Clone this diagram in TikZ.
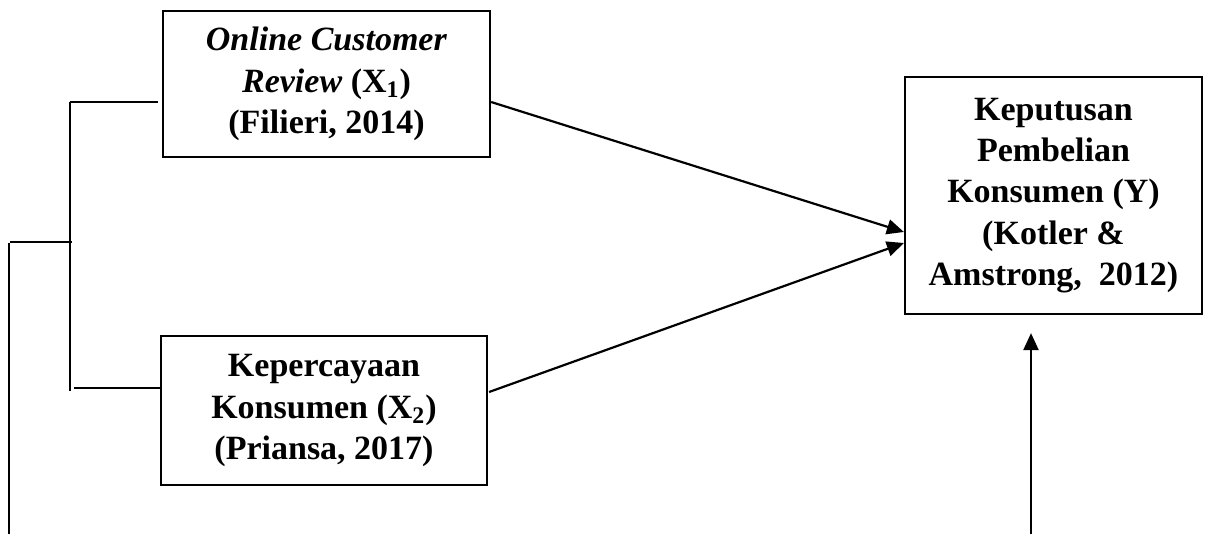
\documentclass[tikz,border=0pt]{standalone}
\usepackage{fontspec}
\setmainfont{Liberation Serif}
\usetikzlibrary{arrows.meta,calc}
\colorlet{box edge}{black}
\tikzset{varbox/.style={draw=box edge, line width=1.1pt, inner sep=0pt, align=center,
        font=\bfseries\fontsize{17}{20.7}\selectfont},
    link/.style={draw=box edge, line width=1.1pt},
    effect/.style={link, -{Triangle[length=8.5pt,width=7.5pt]}}}

\begin{document}
\begin{tikzpicture}[x=0.5pt,y=-0.5pt]
    \useasboundingbox (0,0) rectangle (1206,534);
    % variables
    \node[varbox, minimum width=163.5pt, minimum height=73pt] (x1) at (326.5,84)
        {\textit{Online Customer}\\\textit{Review} (X\textsubscript{1})\\(Filieri, 2014)};
    \node[varbox, minimum width=163pt, minimum height=74.5pt] (x2) at (324,410.5)
        {Kepercayaan\\Konsumen (X\textsubscript{2})\\(Priansa, 2017)};
    \node[varbox, minimum width=148.5pt, minimum height=118.5pt] (y) at (1053.5,195.5)
        {Keputusan\\Pembelian\\Konsumen (Y)\\(Kotler \&\\Amstrong,~ 2012)};
    % bracket on the left
    \coordinate (upper) at (70,102);
    \coordinate (lower) at (74,388);
    \coordinate (joint) at (72,242);
    \coordinate (root) at (10,242);
    \coordinate (rootfoot) at (9,534);
    \draw[link] (upper) -- ($(x1.west)+(-4,18)$);
    \draw[link] (lower) -- ($(x2.west)+(0,-22.5)$);
    \draw[link] (upper) -- (70,391);
    \draw[link] (root) -- (joint);
    \draw[link] (9,243) -- (rootfoot);
    % effects
    \draw[effect] ($(x1.east)+(0,18)$) -- ($(y.west)+(0,36.5)$);
    \draw[effect] ($(x2.east)+(1,-18.5)$) -- ($(y.west)+(0,47.5)$);
    \coordinate (foot) at (1031,534);
    \draw[effect] (foot) -- ($(y.south)+(-22.5,18)$);
\end{tikzpicture}
\end{document}
